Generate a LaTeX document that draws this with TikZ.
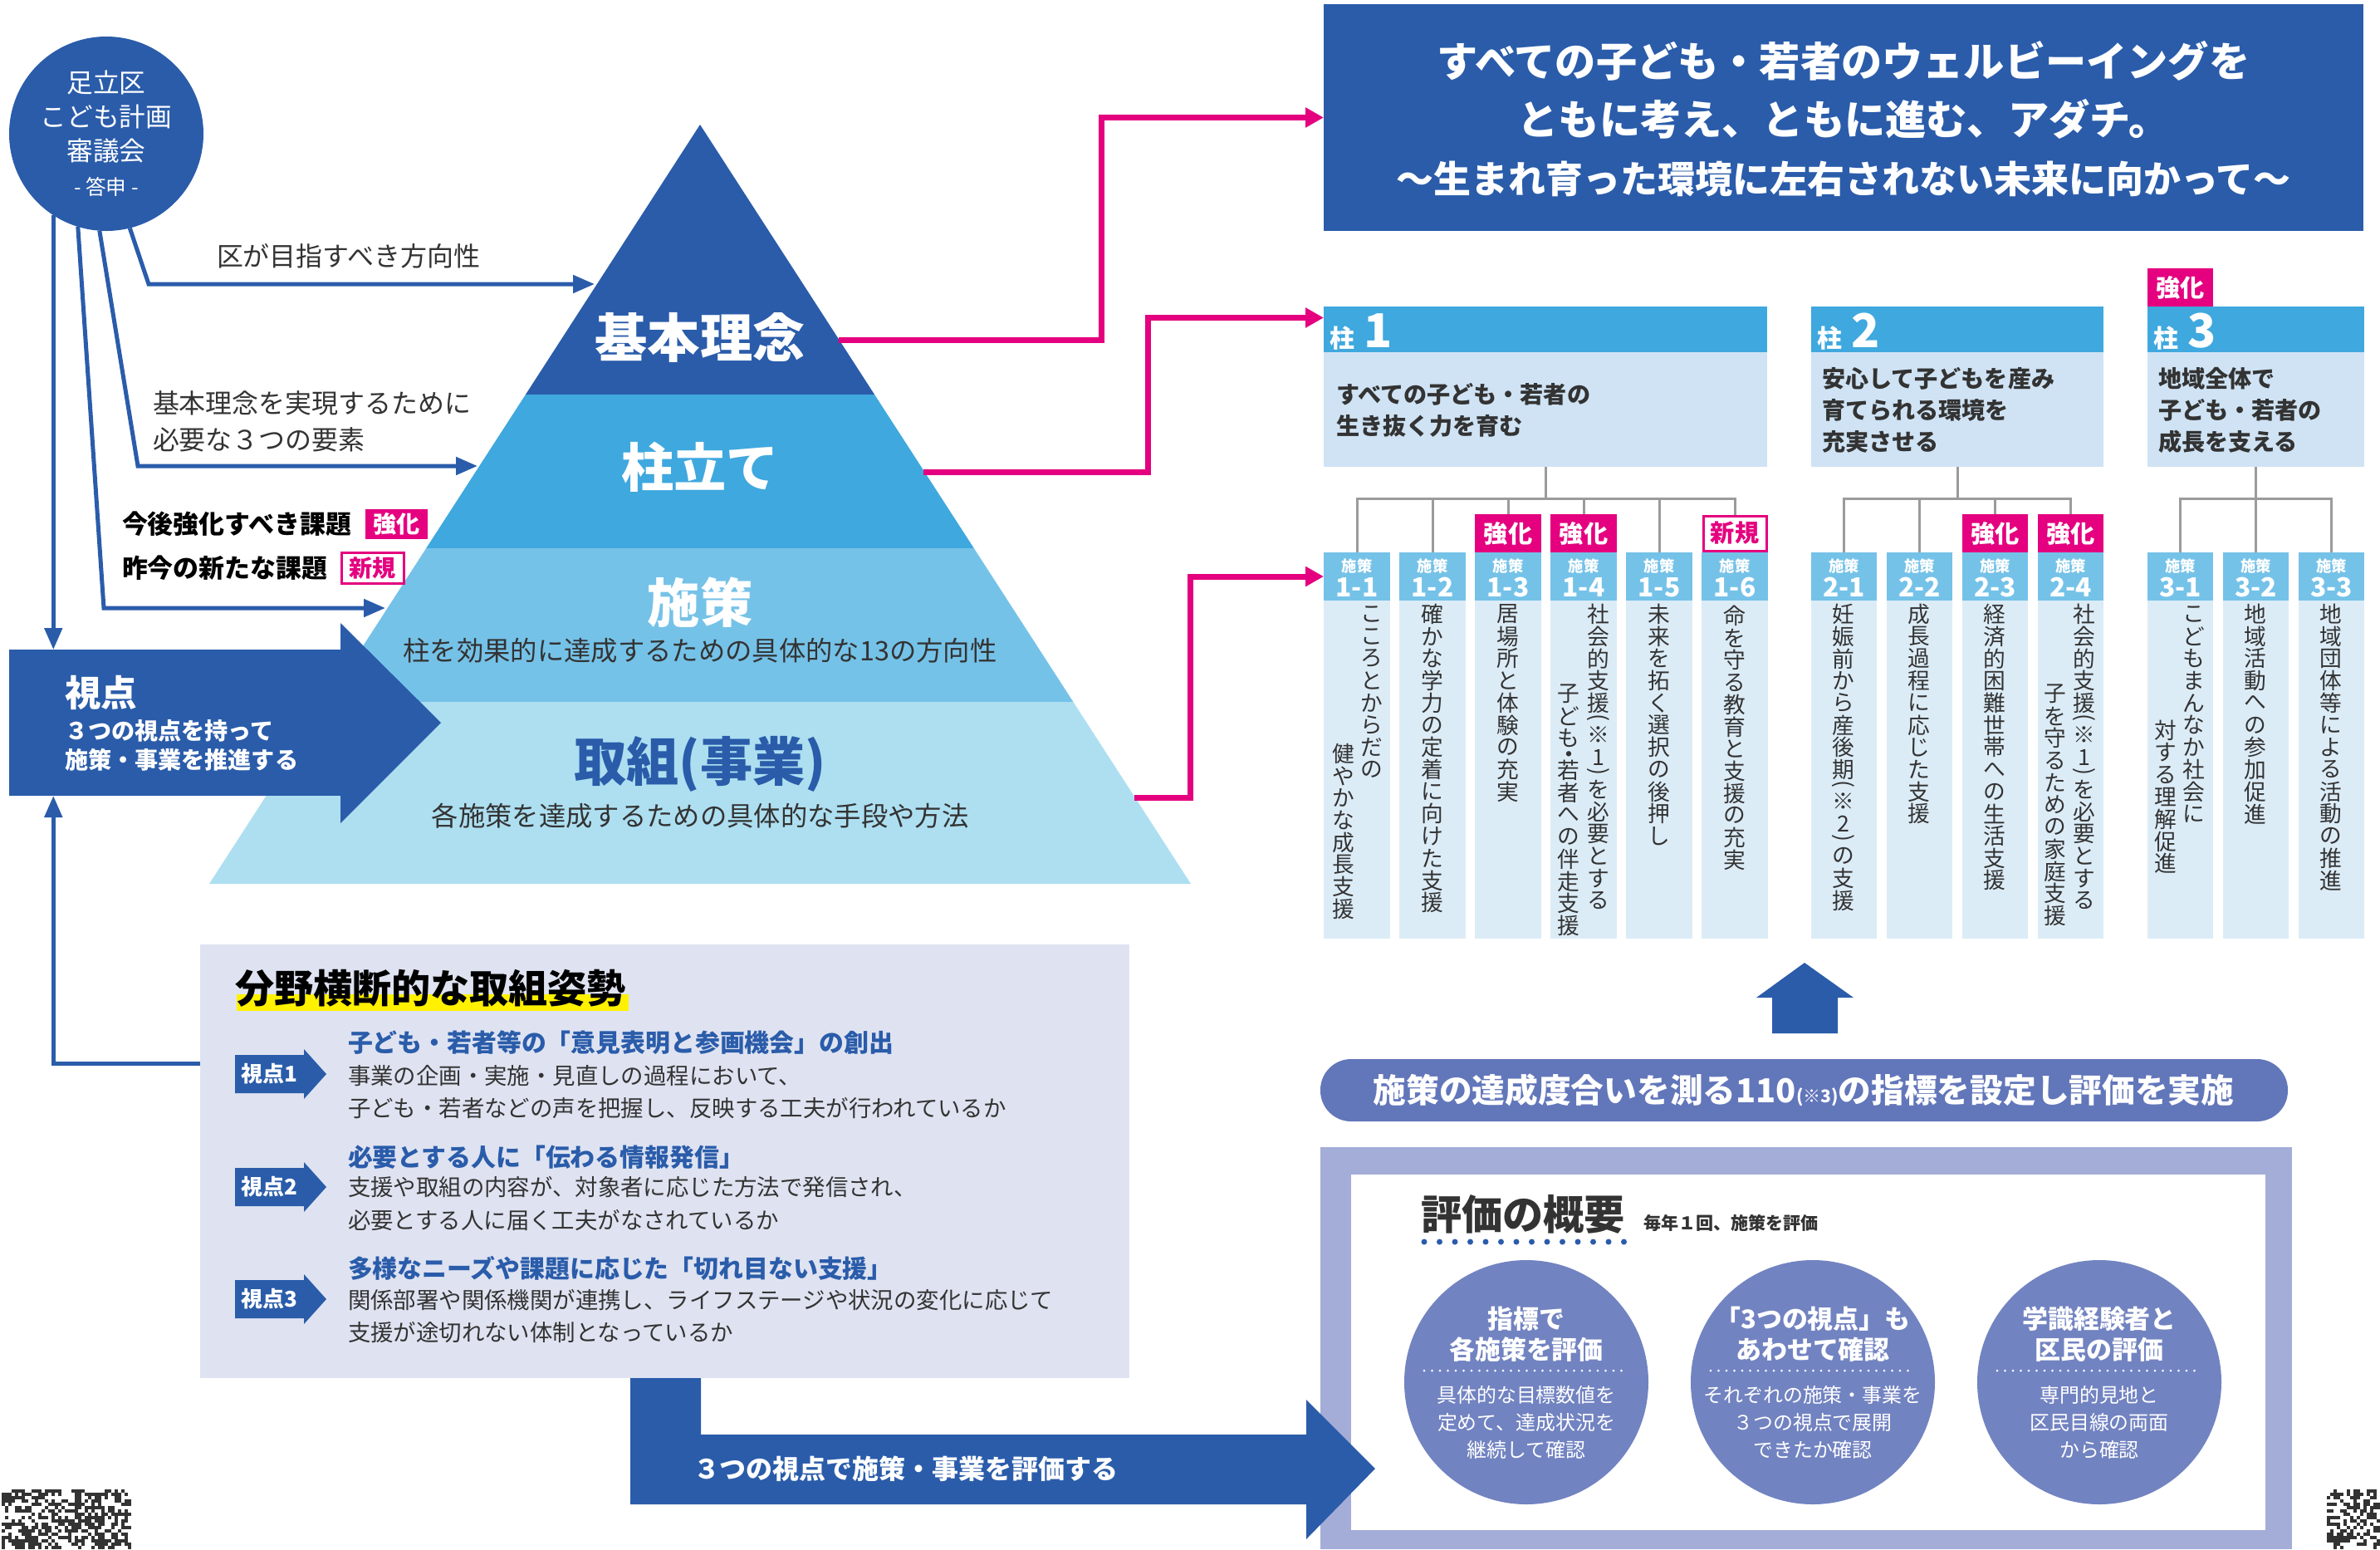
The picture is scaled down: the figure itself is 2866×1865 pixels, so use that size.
\documentclass[tikz,border=0pt]{standalone}
\usepackage{fontspec}
\setmainfont{Noto Sans CJK JP}
\usepackage{graphicx}
\usetikzlibrary{arrows.meta,fit,calc}
\definecolor{dblue}{HTML}{2A5CAA}
\definecolor{mblue}{HTML}{3FA8DE}
\definecolor{lblue}{HTML}{75C2E8}
\definecolor{pblue}{HTML}{ADDFF1}
\definecolor{pillbody}{HTML}{CFE3F4}
\definecolor{colbody}{HTML}{DCECF7}
\definecolor{mag}{HTML}{E4007F}
\definecolor{slate}{HTML}{6276BA}
\definecolor{lav}{HTML}{A4ADD7}
\definecolor{ellip}{HTML}{7283C1}
\definecolor{panel}{HTML}{DFE3F1}
\definecolor{treegray}{HTML}{9B9B9B}
\definecolor{txt}{HTML}{333333}
\definecolor{hl}{HTML}{FFF100}
\newcommand\fz[2]{\fontsize{#1}{#2}\selectfont}
% vertical text helpers
\newcommand\jvcell[1]{\hbox to 1em{\hss\vbox to 1em{\vss\hbox{#1}\vss}\hss}}
\newcommand\jvhalf[2]{\hbox to 1em{\hss\vbox to #1em{\vss\hbox to 0pt{\hss#2\hss}\vss}\hss}}
\def\jvstopmac{\jvstop}
\def\jvplmac{\jvpl}
\def\jvprmac{\jvpr}
\def\jvdtmac{\jvdt}
\def\jvloop#1{\def\jvarg{#1}%
  \ifx\jvarg\jvstopmac\let\jvnext\relax
  \else\ifx\jvarg\jvplmac\jvhalf{0.45}{\rotatebox[origin=c]{-90}{(}}\let\jvnext\jvloop
  \else\ifx\jvarg\jvprmac\jvhalf{0.45}{\rotatebox[origin=c]{-90}{)}}\let\jvnext\jvloop
  \else\ifx\jvarg\jvdtmac\jvhalf{0.45}{{\fontsize{2pt}{2pt}\selectfont ●}}\let\jvnext\jvloop
  \else\jvcell{#1}\let\jvnext\jvloop
  \fi\fi\fi\fi\jvnext}
\newcommand\jvt[1]{\vbox{\offinterlineskip\jvloop#1\jvstop}}
% column with header
\newcommand\colbox[4]{%
  \node[fit={(#2,665) (#2+#3,723)}, fill=lblue] (#1hdr) {};
  \node[fit={(#2,723) (#2+#3,1130)}, fill=colbody] (#1body) {};
  \node[text=white, font=\bfseries\fz{5.2}{6}] (#1sub) at ([yshift=-1.6mm]#1hdr.north) {施策};
  \node[text=white, font=\bfseries\fz{9}{10}] (#1num) at ([yshift=-4.2mm]#1hdr.north) {#4};}
\newcommand\tagK[3]{%
  \node[fit={(#2,619) (#2+#3,665)}, fill=mag] (#1) {};
  \node[text=white, font=\bfseries\fz{8.3}{9}] (#1t) at (#1.center) {強化};}
\newcommand\tagS[3]{%
  \node[fit={(#2+2,621) (#2+#3-2,663)}, fill=white, draw=mag, line width=0.3mm] (#1) {};
  \node[text=mag, font=\bfseries\fz{8.3}{9}] (#1t) at (#1.center) {新規};}
\newcommand\shitentag[3]{%
  \fill[dblue] (283,#2-23) -- (366,#2-23) -- (366,#2-30) -- (393,#2) -- (366,#2+30) -- (366,#2+23) -- (283,#2+23) -- cycle;
  \node[text=white, font=\bfseries\fz{7.4}{8}] (#1) at (324,#2) {#3};}
\begin{document}
\begin{tikzpicture}[x=0.1mm, y=-0.1mm,
  every node/.style={inner sep=0pt, outer sep=0pt},
  bluearrow/.style={draw=dblue, line width=0.5mm, -{Triangle[length=2.6mm,width=2.1mm]}},
  pinkarrow/.style={draw=mag, line width=0.7mm, -{Triangle[length=2.2mm,width=2.3mm]}},
  treeline/.style={draw=treegray, line width=0.3mm},
  coltext/.style={anchor=north, font=\fz{7.6}{8}, text=txt},
  bigpyr/.style={font=\bfseries\fz{18}{20}},
  subpyr/.style={font=\fz{9.2}{11}, text=txt}]
\useasboundingbox (0,0) rectangle (2866,1865);

% ---------- council circle ----------
\node[circle, fill=dblue, minimum size=23.4mm, text=white, align=center, font=\fz{9}{11.7}] (council) at (128,161)
  {足立区\\こども計画\\審議会\\{\fz{7}{11}- 答申 -}};

% ---------- pyramid ----------
\fill[dblue] (843,150) -- (1053.1,475) -- (632.9,475) -- cycle;
\fill[mblue] (632.9,475) -- (1053.1,475) -- (1172.8,660) -- (513.2,660) -- cycle;
\fill[lblue] (513.2,660) -- (1172.8,660) -- (1292.4,845) -- (393.6,845) -- cycle;
\fill[pblue] (393.6,845) -- (1292.4,845) -- (1434,1064) -- (252,1064) -- cycle;
\node[bigpyr, text=white] (kihon) at (843,406) {基本理念};
\node[bigpyr, text=white] (hashira) at (843,562) {柱立て};
\node[bigpyr, text=white] (shisaku) at (843,725) {施策};
\node[subpyr] (shisakusub) at (843,783) {柱を効果的に達成するための具体的な13の方向性};
\node[bigpyr, text=dblue] (torikumi) at (843,920) {取組(事業)};
\node[subpyr] (torisub) at (843,982) {各施策を達成するための具体的な手段や方法};
\coordinate (pyrA) at (716,342);
\coordinate (pyrB) at (575,561);
\coordinate (pyrC) at (464,732);
\coordinate (pk1) at (1010,409);
\coordinate (pk2) at (1112,568);
\coordinate (pk3) at (1366,960);

% ---------- shiten box ----------
\node[fit={(11,782) (417,958)}, fill=dblue] (shiten) {};
\fill[dblue] (410,750) -- (531,870) -- (410,991) -- cycle;
\node[anchor=west, text=white, font=\bfseries\fz{12.4}{14}] (shitentitle) at (78,834) {視点};
\node[anchor=west, text=white, font=\bfseries\fz{8}{10}, align=left] (shitenbody) at (78,897) {３つの視点を持って\\施策・事業を推進する};

% ---------- left labels ----------
\node[anchor=west, text=txt, font=\fz{9.1}{11}] (lab1) at (261,308) {区が目指すべき方向性};
\node[anchor=west, text=txt, font=\fz{9.1}{12.5}, align=left] (lab2) at (184,507) {基本理念を実現するために\\必要な３つの要素};
\node[anchor=west, text=black, font=\bfseries\fz{8.8}{10}] (lab3) at (147,631) {今後強化すべき課題};
\node[anchor=west, text=black, font=\bfseries\fz{8.8}{10}] (lab4) at (147,684) {昨今の新たな課題};
\node[fit={(440,613) (515,649)}, fill=mag] (ltagk) {};
\node[text=white, font=\bfseries\fz{8}{9}] (ltagkt) at (ltagk.center) {強化};
\node[fit={(411,665) (486,702)}, fill=white, draw=mag, line width=0.3mm] (ltags) {};
\node[text=mag, font=\bfseries\fz{8}{9}] (ltagst) at (ltags.center) {新規};

% ---------- panel ----------
\node[fit={(241,1137) (1360,1659)}, fill=panel] (panel) {};
\coordinate (panelL) at (241,1280);

% ---------- blue connectors ----------
\draw[bluearrow] (council.-76) -- (179,342) -- (pyrA);
\draw[bluearrow] (council.-94) -- (166,561) -- (pyrB);
\draw[bluearrow] (council.-107) -- (125,732) -- (pyrC);
\draw[bluearrow] (council.-123) -- (council.-123 |- shiten.north);
\draw[bluearrow] (panelL) -| (council.-123 |- shiten.south);

% ---------- top box ----------
\node[fit={(1594,5) (2846,278)}, fill=dblue] (topbox) {};
\node[text=white, font=\bfseries\fz{14}{20}, align=center] (toptext) at (2220,143)
  {すべての子ども・若者のウェルビーイングを\\ともに考え、ともに進む、アダチ。\\{\fz{12.8}{20}～生まれ育った環境に左右されない未来に向かって～}};

% ---------- pillars ----------
\node[fit={(1594,369) (2128,424)}, fill=mblue] (p1hdr) {};
\node[fit={(1594,424) (2128,562)}, fill=pillbody] (p1body) {};
\node[fit={(2181,369) (2533,424)}, fill=mblue] (p2hdr) {};
\node[fit={(2181,424) (2533,562)}, fill=pillbody] (p2body) {};
\node[fit={(2586,369) (2847,424)}, fill=mblue] (p3hdr) {};
\node[fit={(2586,424) (2847,562)}, fill=pillbody] (p3body) {};
\node[fit={(2586,323) (2665,369)}, fill=mag] (p3tag) {};
\node[text=white, font=\bfseries\fz{8.3}{9}] (p3tagt) at (p3tag.center) {強化};
\node[anchor=base west, text=white, font=\bfseries] (p1lab) at (1601,418) {{\fz{8.5}{10}柱}\hspace{1.2mm}{\fz{16}{18}1}};
\node[anchor=base west, text=white, font=\bfseries] (p2lab) at (2188,418) {{\fz{8.5}{10}柱}\hspace{1.2mm}{\fz{16}{18}2}};
\node[anchor=base west, text=white, font=\bfseries] (p3lab) at (2593,418) {{\fz{8.5}{10}柱}\hspace{1.2mm}{\fz{16}{18}3}};
\node[anchor=west, align=left, text=txt, font=\bfseries\fz{8}{10.8}] (p1txt) at (1609,494) {すべての子ども・若者の\\生き抜く力を育む};
\node[anchor=west, align=left, text=txt, font=\bfseries\fz{8}{10.8}] (p2txt) at (2194,494) {安心して子どもを産み\\育てられる環境を\\充実させる};
\node[anchor=west, align=left, text=txt, font=\bfseries\fz{8}{10.8}] (p3txt) at (2599,494) {地域全体で\\子ども・若者の\\成長を支える};

% ---------- columns ----------
\colbox{c11}{1594}{80}{1-1}
\colbox{c12}{1685}{80}{1-2}
\colbox{c13}{1776}{80}{1-3}
\colbox{c14}{1867}{80}{1-4}
\colbox{c15}{1958}{80}{1-5}
\colbox{c16}{2049}{80}{1-6}
\colbox{c21}{2181}{79}{2-1}
\colbox{c22}{2272}{79}{2-2}
\colbox{c23}{2363}{79}{2-3}
\colbox{c24}{2454}{79}{2-4}
\colbox{c31}{2586}{79}{3-1}
\colbox{c32}{2677}{79}{3-2}
\colbox{c33}{2768}{79}{3-3}

% tree lines
\draw[treeline] (p1body.south) -- ++(0,38);
\draw[treeline] (c11hdr.north) -- ++(0,-65) -| (c16hdr.north);
\foreach \c in {c12,c13,c14,c15} \draw[treeline] (\c hdr.north) -- ++(0,-65);
\draw[treeline] (p2body.south) -- ++(0,38);
\draw[treeline] (c21hdr.north) -- ++(0,-65) -| (c24hdr.north);
\foreach \c in {c22,c23} \draw[treeline] (\c hdr.north) -- ++(0,-65);
\draw[treeline] (p3body.south) -- ++(0,38);
\draw[treeline] (c31hdr.north) -- ++(0,-65) -| (c33hdr.north);
\draw[treeline] (c32hdr.north) -- ++(0,-65);

% tags
\tagK{t13}{1776}{80}
\tagK{t14}{1867}{80}
\tagS{t16}{2049}{80}
\tagK{t23}{2363}{79}
\tagK{t24}{2454}{79}

% vertical texts
\node[coltext] (v11a) at (1652,726) {\jvt{こころとからだの}};
\node[coltext] (v11b) at (1618,894) {\jvt{健やかな成長支援}};
\node[coltext] (v12) at (1725,726) {\jvt{確かな学力の定着に向けた支援}};
\node[coltext] (v13) at (1816,726) {\jvt{居場所と体験の充実}};
\node[coltext] (v14a) at (1925,726) {\jvt{社会的支援\jvpl ※1\jvpr を必要とする}};
\node[coltext] (v14b) at (1889,822) {\jvt{子ども\jvdt 若者への伴走支援}};
\node[coltext] (v15) at (1998,726) {\jvt{未来を拓く選択の後押し}};
\node[coltext] (v16) at (2089,728) {\jvt{命を守る教育と支援の充実}};
\node[coltext] (v21) at (2220,726) {\jvt{妊娠前から産後期\jvpl ※2\jvpr の支援}};
\node[coltext] (v22) at (2311,726) {\jvt{成長過程に応じた支援}};
\node[coltext] (v23) at (2402,726) {\jvt{経済的困難世帯への生活支援}};
\node[coltext] (v24a) at (2510,726) {\jvt{社会的支援\jvpl ※1\jvpr を必要とする}};
\node[coltext] (v24b) at (2475,822) {\jvt{子を守るための家庭支援}};
\node[coltext] (v31a) at (2642,726) {\jvt{こどもまんなか社会に}};
\node[coltext] (v31b) at (2608,866) {\jvt{対する理解促進}};
\node[coltext] (v32) at (2716,726) {\jvt{地域活動への参加促進}};
\node[coltext] (v33) at (2807,726) {\jvt{地域団体等による活動の推進}};

% ---------- pink connectors ----------
\draw[pinkarrow] (pk1) -- (1326,409) |- (topbox.west);
\draw[pinkarrow] (pk2) -- (1382,568) |- ([yshift=1.4mm]p1hdr.west);
\draw[pinkarrow] (pk3) -- (1433,960) |- (c11hdr.west);

% ---------- up arrow and banner ----------
\fill[dblue] (2134,1244) -- (2134,1201) -- (2115,1201) -- (2173,1159) -- (2232,1201) -- (2213,1201) -- (2213,1244) -- cycle;
\node[fit={(1590,1275) (2755,1350)}, fill=slate, rounded corners=3.7mm] (banner) {};
\node[text=white, font=\bfseries\fz{11.3}{12}] (bannertext) at (2172,1312) {施策の達成度合いを測る110{\fz{6}{7}(※3)}の指標を設定し評価を実施};

% ---------- evaluation ----------
\node[fit={(1590,1381) (2760,1865)}, fill=lav] (evalouter) {};
\node[fit={(1627,1414) (2728,1842)}, fill=white] (evalinner) {};
\node[anchor=west, text=txt, font=\bfseries\fz{14}{16}] (evaltitle) at (1711,1462) {評価の概要};
\node[anchor=base west, text=txt, font=\bfseries\fz{6}{7}, xshift=2.2mm] (evalsub) at (evaltitle.base east) {毎年１回、施策を評価};
\draw[dblue, line width=0.7mm, line cap=round, dash pattern=on 0pt off 1.85mm] (1715,1495) -- (1957,1495);

\node[circle, fill=ellip, minimum size=29.4mm] (e1) at (1838,1664) {};
\node[circle, fill=ellip, minimum size=29.4mm] (e2) at (2183,1664) {};
\node[circle, fill=ellip, minimum size=29.4mm] (e3) at (2528,1664) {};
\foreach \cx in {1838,2183,2528}
  \draw[white, line width=0.3mm, line cap=round, dash pattern=on 0pt off 0.95mm] (\cx-123,1650) -- (\cx+123,1650);
\node[text=white, font=\bfseries\fz{8.8}{10.5}, align=center] (e1t) at (1838,1606) {指標で\\各施策を評価};
\node[text=white, font=\bfseries\fz{8.8}{10.5}, align=center] (e2t) at (2183,1606) {「3つの視点」も\\あわせて確認};
\node[text=white, font=\bfseries\fz{8.8}{10.5}, align=center] (e3t) at (2528,1606) {学識経験者と\\区民の評価};
\node[text=white, font=\fz{6.8}{9.4}, align=center] (e1b) at (1838,1712) {具体的な目標数値を\\定めて、達成状況を\\継続して確認};
\node[text=white, font=\fz{6.8}{9.4}, align=center] (e2b) at (2183,1712) {それぞれの施策・事業を\\３つの視点で展開\\できたか確認};
\node[text=white, font=\fz{6.8}{9.4}, align=center] (e3b) at (2528,1712) {専門的見地と\\区民目線の両面\\から確認};

% ---------- panel content ----------
\fill[hl] (285,1197) rectangle (757,1217);
\node[anchor=west, text=black, font=\bfseries\fz{13.4}{15}] (paneltitle) at (283,1190) {分野横断的な取組姿勢};
\shitentag{s1}{1293}{視点1}
\shitentag{s2}{1429}{視点2}
\shitentag{s3}{1564}{視点3}
\node[anchor=west, text=dblue, font=\bfseries\fz{8.5}{10}] (h1) at (419,1255) {子ども・若者等の「意見表明と参画機会」の創出};
\node[anchor=west, text=txt, font=\fz{7.8}{11.1}, align=left] (b1) at (419,1315) {事業の企画・実施・見直しの過程において、\\子ども・若者などの声を把握し、反映する工夫が行われているか};
\node[anchor=west, text=dblue, font=\bfseries\fz{8.5}{10}] (h2) at (419,1393) {必要とする人に「伝わる情報発信」};
\node[anchor=west, text=txt, font=\fz{7.8}{11.1}, align=left] (b2) at (419,1449) {支援や取組の内容が、対象者に応じた方法で発信され、\\必要とする人に届く工夫がなされているか};
\node[anchor=west, text=dblue, font=\bfseries\fz{8.5}{10}] (h3) at (419,1527) {多様なニーズや課題に応じた「切れ目ない支援」};
\node[anchor=west, text=txt, font=\fz{7.8}{11.1}, align=left] (b3) at (419,1585) {関係部署や関係機関が連携し、ライフステージや状況の変化に応じて\\支援が途切れない体制となっているか};

% ---------- bottom arrow ----------
\fill[dblue] (759,1659) -- (844,1659) -- (844,1727) -- (1573,1727) -- (1573,1685) -- (1656,1768) -- (1573,1853) -- (1573,1811) -- (759,1811) -- cycle;
\node[anchor=west, text=white, font=\bfseries\fz{9.1}{10}] (evalarrowtext) at (835,1768) {３つの視点で施策・事業を評価する};

% ---------- cut-off code patches at the bottom corners ----------
\pgfmathsetseed{7}
\foreach \i in {0,...,38} \foreach \j in {0,...,17} {
  \pgfmathparse{rnd}
  \ifdim\pgfmathresult pt<0.5pt \fill[black!80] (2+\i*4,1793+\j*4) rectangle ++(4,4); \fi
}
\foreach \i in {0,...,15} \foreach \j in {0,...,17} {
  \pgfmathparse{rnd}
  \ifdim\pgfmathresult pt<0.5pt \fill[black!80] (2802+\i*4,1793+\j*4) rectangle ++(4,4); \fi
}
\end{tikzpicture}
\end{document}
